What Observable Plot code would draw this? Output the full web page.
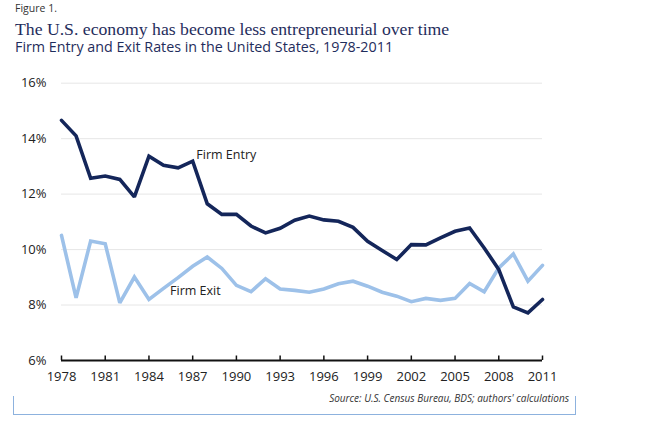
<!DOCTYPE html>
<html>
<head>
<meta charset="utf-8">
<script src="https://cdn.jsdelivr.net/npm/d3@7"></script>
<script src="https://cdn.jsdelivr.net/npm/@observablehq/plot@0.6"></script>
<style>
  html, body { margin: 0; padding: 0; background: #fff; }
  #wrap { position: relative; width: 652px; height: 424px; overflow: hidden; font-family: "Open Sans", sans-serif; }
  .abs { position: absolute; white-space: nowrap; line-height: 1; }
  #fig { left: 15px; top: 3px; font-size: 10.5px; color: #333; }
  #title { left: 15px; top: 21.5px; font-family: "Liberation Serif", serif; font-size: 17.7px; line-height: 0.9; color: #1f2d5c; }
  #subtitle { left: 15px; top: 40px; font-size: 14.3px; line-height: 0.95; color: #1f2d5c; }
  #chart { position: absolute; left: 0; top: 62px; }
  #source { right: 83px; top: 392.6px; font-size: 10px; font-style: italic; color: #333; }
  #frame { position: absolute; left: 13px; top: 396px; width: 561px; height: 17.5px;
           border-left: 1.2px solid #8db2de; border-right: 1.2px solid #8db2de; border-bottom: 1.2px solid #8db2de; }
</style>
</head>
<body>
<div id="wrap">
  <div id="fig" class="abs">Figure 1.</div>
  <div id="title" class="abs">The U.S. economy has become less entrepreneurial over time</div>
  <div id="subtitle" class="abs">Firm Entry and Exit Rates in the United States, 1978-2011</div>
  <div id="chart"></div>
  <div id="frame"></div>
  <div id="source" class="abs">Source: U.S. Census Bureau, BDS; authors' calculations</div>
</div>
<script>
const years = d3.range(1978, 2012);
const entryRate = [14.66, 14.1, 12.57, 12.65, 12.53, 11.9, 13.37, 13.04, 12.95, 13.19,
  11.65, 11.27, 11.27, 10.85, 10.6, 10.77, 11.06, 11.21, 11.07, 11.02,
  10.8, 10.3, 9.97, 9.64, 10.18, 10.17, 10.42, 10.66, 10.78, 10.06,
  9.28, 7.93, 7.72, 8.2];
const exitRate = [10.51, 8.26, 10.31, 10.21, 8.08, 9.01, 8.2, 8.6, 8.99, 9.4,
  9.73, 9.32, 8.71, 8.48, 8.95, 8.58, 8.53, 8.46, 8.58, 8.77,
  8.86, 8.68, 8.46, 8.32, 8.12, 8.24, 8.17, 8.24, 8.78, 8.48,
  9.34, 9.84, 8.86, 9.43];
const xTicks = d3.range(1978, 2012, 3);
const yTicks = [6, 8, 10, 12, 14, 16];
const gridTicks = [8, 10, 12, 14, 16];
const seriesLabels = [
  {name: "Firm Entry", year: 1987.25, value: 13.42},
  {name: "Firm Exit", year: 1985.45, value: 8.52}
];

const entry = years.map((y, i) => ({year: y, value: entryRate[i]}));
const exit = years.map((y, i) => ({year: y, value: exitRate[i]}));

const chart = Plot.plot({
  width: 652,
  height: 330,
  marginLeft: 61,
  marginRight: 110,
  marginTop: 20.7,
  marginBottom: 32,
  style: {fontFamily: "'Open Sans', sans-serif", fontSize: "13px", color: "#222", background: "transparent"},
  x: {domain: [1978, 2011]},
  y: {domain: [6, 16]},
  marks: [
    Plot.ruleY(gridTicks, {y: d => d, stroke: "#e6e6e6", strokeWidth: 1}),
    Plot.axisY({ticks: yTicks, tickFormat: d => d + "%", tickSize: 0, tickPadding: 15, label: null, fontSize: 13, fill: "#222"}),
    Plot.axisX({ticks: xTicks, tickFormat: d => String(d), tickSize: 0, tickPadding: 11, label: null, fontSize: 13, fill: "#222"}),
    Plot.ruleY([6], {y: d => d, stroke: "#111", strokeWidth: 2}),
    Plot.ruleX(xTicks, {x: d => d, y1: 6, y2: 6, insetTop: -4.5, stroke: "#111", strokeWidth: 1.5}),
    Plot.line(exit, {x: "year", y: "value", stroke: "#9dc1e9", strokeWidth: 3.6, strokeLinejoin: "miter", strokeMiterlimit: 2}),
    Plot.line(entry, {x: "year", y: "value", stroke: "#14265a", strokeWidth: 3.6, strokeLinejoin: "miter", strokeMiterlimit: 2}),
    Plot.text(seriesLabels, {x: "year", y: "value", text: "name", textAnchor: "start", fontSize: 12.5, fill: "#222"})
  ]
});
document.getElementById("chart").appendChild(chart);
</script>
</body>
</html>
